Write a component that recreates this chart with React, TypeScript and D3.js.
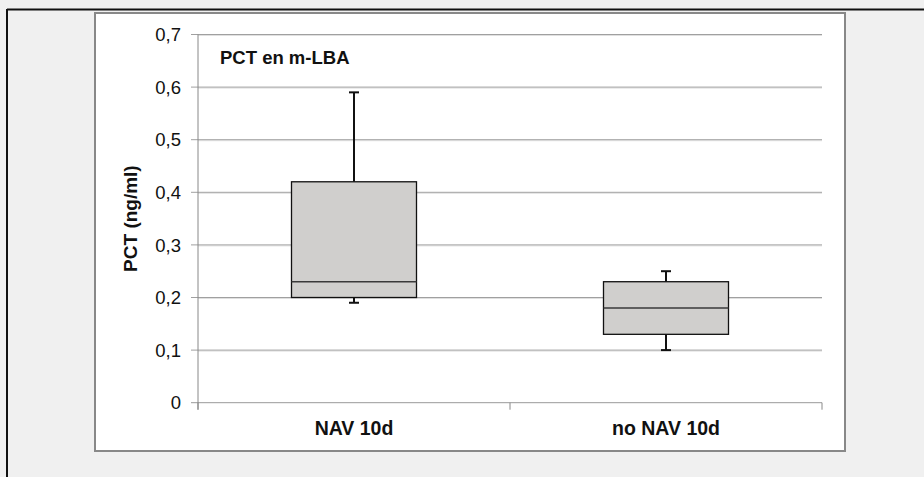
import React from "react";
import * as d3 from "d3";

const categories = ["NAV 10d", "no NAV 10d"];
const whiskerLow = [0.19, 0.10];
const q1 = [0.20, 0.13];
const median = [0.23, 0.18];
const q3 = [0.42, 0.23];
const whiskerHigh = [0.59, 0.25];
const yTicks = [0, 0.1, 0.2, 0.3, 0.4, 0.5, 0.6, 0.7];

export default function App() {
  const W = 924, H = 477;
  const left = 198, right = 822, top = 34.5, bottom = 402.7;
  const y = d3.scaleLinear().domain([0, 0.7]).range([bottom, top]);
  const x = d3.scaleBand().domain(categories).range([left, right]).paddingInner(0).paddingOuter(0);
  const boxW = 125;
  const fmt = (v: number) => (v === 0 ? "0" : d3.format(".1f")(v).replace(".", ","));
  const font = "Arial, 'Liberation Sans', sans-serif";
  return (
    <svg width={W} height={H} style={{ position: "absolute", left: 0, top: 0 }}>
      <rect x={0} y={0} width={W} height={H} fill="#f0f0f0" />
      <line x1={7} x2={W} y1={9.5} y2={9.5} stroke="#111" strokeWidth={2} />
      <line x1={7} x2={7} y1={9} y2={H} stroke="#111" strokeWidth={2} />
      <rect x={95} y={13} width={750} height={438} fill="#fff" stroke="#888" strokeWidth={2} />
      {yTicks.map((t) => (
        <g key={t}>
          {t > 0 && <line x1={left} x2={right} y1={y(t) + 1} y2={y(t) + 1} stroke="#e0e0e0" strokeWidth={1} />}
          <line x1={left - 7} x2={right} y1={y(t)} y2={y(t)} stroke={t === 0 ? "#999" : "#a0a0a0"} strokeWidth={1} />
          <text x={181} y={y(t)} dy="0.36em" textAnchor="end" fontFamily={font} fontSize={18.5} fill="#111">
            {fmt(t)}
          </text>
        </g>
      ))}
      <line x1={left} x2={left} y1={top} y2={bottom + 7} stroke="#888" strokeWidth={1} />
      {[left, left + x.bandwidth(), right].map((xv, i) => (
        <line key={i} x1={xv} x2={xv} y1={bottom} y2={bottom + 7} stroke="#888" strokeWidth={1} />
      ))}
      {categories.map((c, i) => {
        const cx = (x(c) as number) + x.bandwidth() / 2;
        return (
          <g key={c}>
            <line x1={cx} x2={cx} y1={y(whiskerHigh[i])} y2={y(q3[i])} stroke="#111" strokeWidth={2} />
            <line x1={cx - 5} x2={cx + 5} y1={y(whiskerHigh[i])} y2={y(whiskerHigh[i])} stroke="#111" strokeWidth={2} />
            <line x1={cx} x2={cx} y1={y(q1[i])} y2={y(whiskerLow[i])} stroke="#111" strokeWidth={2} />
            <line x1={cx - 5} x2={cx + 5} y1={y(whiskerLow[i])} y2={y(whiskerLow[i])} stroke="#111" strokeWidth={2} />
            <rect x={cx - boxW / 2} y={y(q3[i])} width={boxW} height={y(q1[i]) - y(q3[i])} fill="#d0cfcd" stroke="#111" strokeWidth={1.3} />
            <line x1={cx - boxW / 2} x2={cx + boxW / 2} y1={y(median[i])} y2={y(median[i])} stroke="#3a3a3a" strokeWidth={1.4} />
            <text x={cx} y={435} textAnchor="middle" fontFamily={font} fontSize={19.5} fontWeight="bold" fill="#111">
              {c}
            </text>
          </g>
        );
      })}
      <text x={220} y={64} fontFamily={font} fontSize={18.5} fontWeight="bold" fill="#111">PCT en m-LBA</text>
      <text transform={`translate(137,${(top + bottom) / 2}) rotate(-90)`} textAnchor="middle" fontFamily={font} fontSize={19} fontWeight="bold" fill="#111">
        PCT (ng/ml)
      </text>
    </svg>
  );
}
